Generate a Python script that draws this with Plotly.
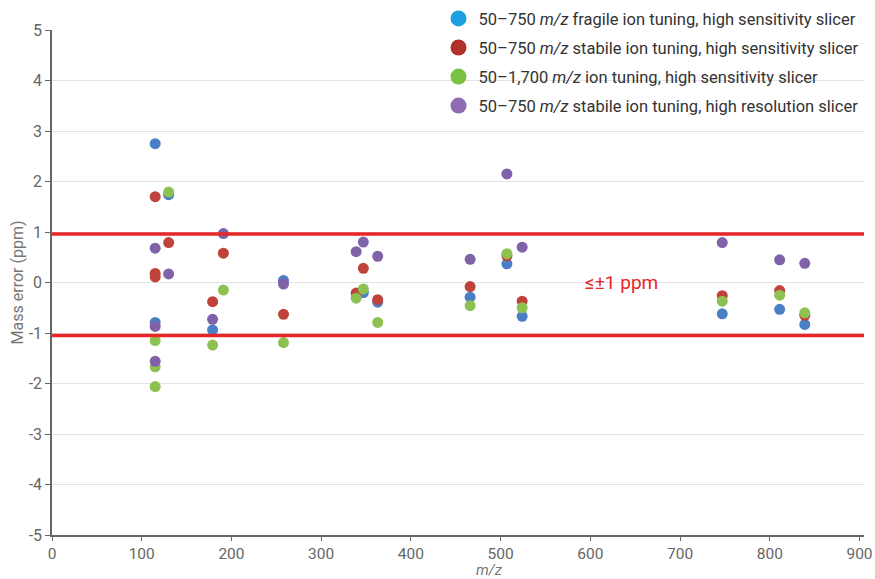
import plotly.graph_objects as go

series_names = [
    "50–750 <i>m/z</i> fragile ion tuning, high sensitivity slicer",
    "50–750 <i>m/z</i> stabile ion tuning, high sensitivity slicer",
    "50–1,700 <i>m/z</i> ion tuning, high sensitivity slicer",
    "50–750 <i>m/z</i> stabile ion tuning, high resolution slicer",
]

blue_x = [115, 130, 115, 179, 258, 347, 363, 466, 507, 524, 747, 811, 839]
blue_y = [2.75, 1.74, -0.79, -0.94, 0.04, -0.2, -0.39, -0.29, 0.37, -0.67, -0.62, -0.53, -0.83]

red_x = [115, 130, 115, 115, 179, 191, 258, 339, 347, 363, 466, 507, 524, 747, 811, 839]
red_y = [1.7, 0.79, 0.18, 0.11, -0.38, 0.58, -0.63, -0.21, 0.28, -0.34, -0.08, 0.53, -0.37, -0.26, -0.16, -0.65]

green_x = [130, 115, 115, 115, 179, 191, 258, 339, 347, 363, 466, 507, 524, 747, 811, 839]
green_y = [1.79, -1.15, -1.67, -2.06, -1.24, -0.15, -1.19, -0.31, -0.13, -0.79, -0.46, 0.57, -0.5, -0.37, -0.25, -0.6]

purple_x = [115, 130, 115, 115, 179, 191, 258, 339, 347, 363, 466, 507, 524, 747, 811, 839]
purple_y = [0.68, 0.17, -0.87, -1.56, -0.73, 0.97, -0.03, 0.61, 0.80, 0.52, 0.46, 2.15, 0.70, 0.79, 0.45, 0.38]

limit_upper = 0.96
limit_lower = -1.05

y_ticks = [5, 4, 3, 2, 1, 0, -1, -2, -3, -4, -5]
y_ticktext = [str(v) for v in y_ticks]
x_ticks = [0, 100, 200, 300, 400, 500, 600, 700, 800, 900]

point_colors = ["#4a7fc6", "#bf433a", "#8dc152", "#7f62a8"]
legend_colors = ["#1aa0e0", "#b0302a", "#7ac143", "#8e6bb2"]

FONT = "Roboto, Arial, sans-serif"

fig = go.Figure()
all_x = [blue_x, red_x, green_x, purple_x]
all_y = [blue_y, red_y, green_y, purple_y]
for i in range(4):
    fig.add_trace(go.Scatter(
        x=all_x[i], y=all_y[i], mode="markers",
        marker=dict(size=11, color=point_colors[i]),
        showlegend=False, name=series_names[i],
    ))
for i in range(4):
    fig.add_trace(go.Scatter(
        x=[None], y=[None], mode="markers",
        marker=dict(size=16, color=legend_colors[i]),
        name=series_names[i], legendgroup=f"g{i}", showlegend=True,
    ))

for yv in (limit_upper, limit_lower):
    fig.add_shape(type="line", xref="paper", x0=0, x1=1, yref="y", y0=yv, y1=yv,
                  line=dict(color="#e8262a", width=3.5), layer="above")

# white gap in the zero gridline behind the label
fig.add_shape(type="rect", xref="x", yref="y", x0=574, x1=705, y0=-0.06, y1=0.06,
              fillcolor="white", line=dict(width=0), layer="below")
fig.add_annotation(x=635, y=0, xref="x", yref="y", text="≤±1 ppm", showarrow=False,
                   font=dict(family=FONT, size=19, color="#e8262a"))

fig.add_annotation(x=0.539, y=-0.0695, xref="paper", yref="paper", text="<i>m/z</i>",
                   showarrow=False, yanchor="middle", borderpad=0,
                   font=dict(family=FONT, size=15, color="#777777"))
fig.add_annotation(x=-0.042, y=0.5, xref="paper", yref="paper", text="Mass error (ppm)",
                   showarrow=False, textangle=-90, xanchor="center", yanchor="middle",
                   font=dict(family=FONT, size=16, color="#777777"))

fig.update_layout(
    width=875, height=579,
    margin=dict(l=52, r=11, t=30, b=44, autoexpand=False),
    paper_bgcolor="white", plot_bgcolor="white",
    font=dict(family=FONT, size=16, color="#666666"),
    legend=dict(x=0.476, y=1.057, xanchor="left", yanchor="top",
                font=dict(family=FONT, size=16.5, color="#333333"),
                bgcolor="rgba(0,0,0,0)", tracegroupgap=4.6, itemsizing="trace"),
    xaxis=dict(range=[0, 905], tickvals=x_ticks, showgrid=False, zeroline=False,
               showline=True, linecolor="#666666", linewidth=1.5,
               ticks="outside", ticklen=4, tickcolor="#666666",
               tickfont=dict(family=FONT, size=15.5, color="#666666")),
    yaxis=dict(range=[-5, 5], tickvals=y_ticks, ticktext=y_ticktext,
               showgrid=True, gridcolor="#e3e3e3", gridwidth=1.2, zeroline=False,
               showline=True, linecolor="#666666", linewidth=1.5,
               ticks="outside", ticklen=5, tickcolor="#666666",
               tickfont=dict(family=FONT, size=16, color="#666666")),
)

fig.write_html("out.html", config={"displayModeBar": False},
               post_script="document.body.style.margin='0';")
